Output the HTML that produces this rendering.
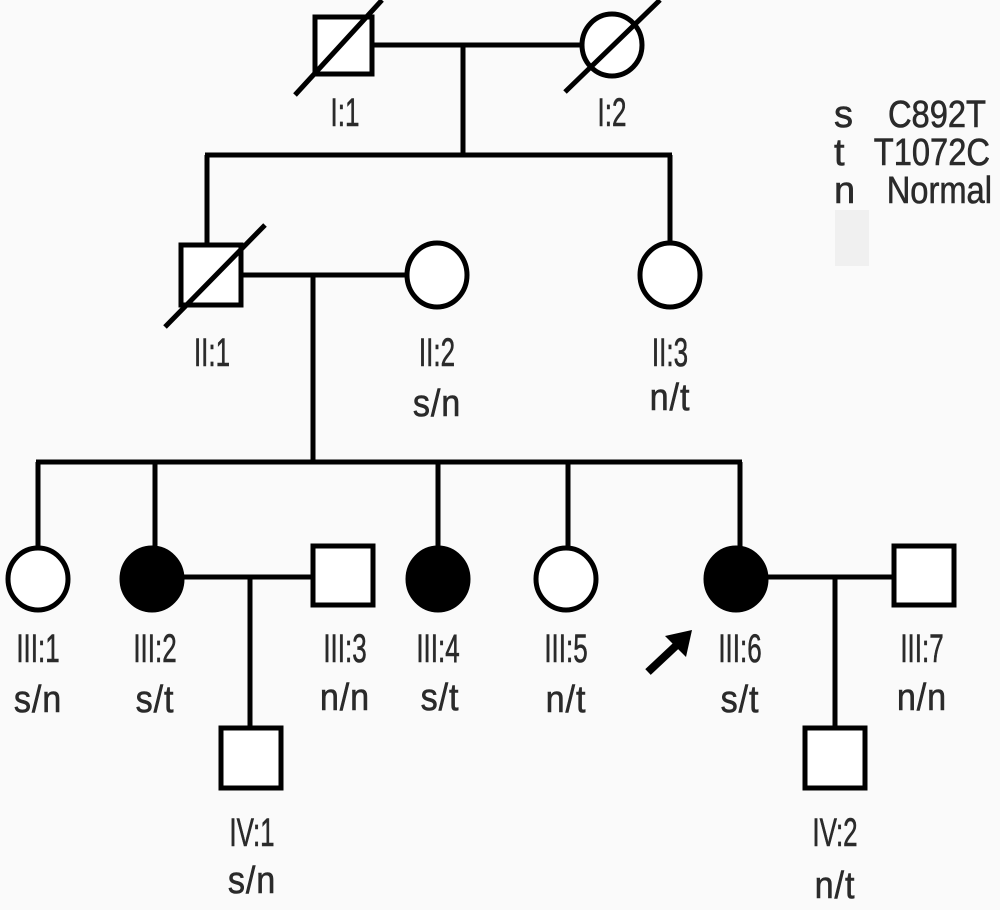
<!DOCTYPE html>
<html><head><style>
html,body{margin:0;padding:0;background:#fafafa;}
svg text{font-family:"Liberation Sans",sans-serif;fill:#2a2a2a;stroke:#2a2a2a;stroke-width:0.6px;}
.l{font-size:40px;}
.g{font-size:38px;letter-spacing:1px;}
.k{font-size:38px;}
</style></head><body>
<svg width="1000" height="905" viewBox="0 0 1000 905" xmlns="http://www.w3.org/2000/svg">
<rect width="1000" height="905" fill="#fafafa"/>
<rect x="835" y="210" width="34" height="56" fill="#f0f0f0"/>
<g stroke="#000" stroke-width="5" fill="none">
<rect x="315" y="17" width="57" height="57" fill="#fff"/>
<line x1="295" y1="95" x2="382" y2="0"/>
<ellipse cx="612" cy="45" rx="30" ry="31" fill="#fff"/>
<line x1="565" y1="92" x2="660" y2="0"/>
<line x1="372" y1="45" x2="582" y2="45"/>
<line x1="463" y1="45" x2="463" y2="155"/>
<line x1="205" y1="155" x2="672" y2="155"/>
<line x1="207" y1="155" x2="207" y2="245"/>
<line x1="670" y1="155" x2="670" y2="243"/>
<rect x="181" y="245" width="60" height="60" fill="#fff"/>
<line x1="165" y1="327" x2="265" y2="225"/>
<line x1="241" y1="275" x2="405" y2="275"/>
<ellipse cx="437" cy="275" rx="30" ry="32" fill="#fff"/>
<ellipse cx="670" cy="275" rx="30" ry="32" fill="#fff"/>
<line x1="313" y1="275" x2="313" y2="462"/>
<line x1="36" y1="462" x2="742" y2="462"/>
<line x1="38" y1="462" x2="38" y2="548"/>
<line x1="155" y1="462" x2="155" y2="548"/>
<line x1="438" y1="462" x2="438" y2="548"/>
<line x1="568" y1="462" x2="568" y2="548"/>
<line x1="740" y1="462" x2="740" y2="548"/>
<ellipse cx="38" cy="579" rx="30" ry="31" fill="#fff"/>
<ellipse cx="152" cy="579" rx="30" ry="31" fill="#000"/>
<line x1="182" y1="577" x2="313" y2="577"/>
<rect x="313" y="546" width="60" height="59" fill="#fff"/>
<line x1="250" y1="577" x2="250" y2="728"/>
<rect x="221" y="728" width="60" height="60" fill="#fff"/>
<ellipse cx="438" cy="579" rx="30" ry="31" fill="#000"/>
<ellipse cx="566" cy="579" rx="30" ry="31" fill="#fff"/>
<ellipse cx="736" cy="579" rx="30" ry="31" fill="#000"/>
<line x1="766" y1="577" x2="893" y2="577"/>
<rect x="894" y="546" width="60" height="59" fill="#fff"/>
<line x1="835" y1="577" x2="835" y2="728"/>
<rect x="805" y="728" width="60" height="60" fill="#fff"/>
</g>
<line x1="648" y1="672" x2="680" y2="642" stroke="#000" stroke-width="8"/>
<polygon points="692,630 665,636 686,657" fill="#000"/>
<g text-anchor="middle">
<text class="l" x="345" y="126" transform="translate(345,0) scale(0.65,1) translate(-345,0)">I:1</text>
<text class="l" x="612" y="126" transform="translate(612,0) scale(0.65,1) translate(-612,0)">I:2</text>
<text class="l" x="212" y="366" transform="translate(212,0) scale(0.65,1) translate(-212,0)">II:1</text>
<text class="l" x="437" y="366" transform="translate(437,0) scale(0.65,1) translate(-437,0)">II:2</text>
<text class="g" x="437" y="416" transform="translate(437,0) scale(0.9,1) translate(-437,0)">s/n</text>
<text class="l" x="670" y="366" transform="translate(670,0) scale(0.65,1) translate(-670,0)">II:3</text>
<text class="g" x="670" y="410" transform="translate(670,0) scale(0.9,1) translate(-670,0)">n/t</text>
<text class="l" x="38" y="662" transform="translate(38,0) scale(0.65,1) translate(-38,0)">III:1</text>
<text class="g" x="38" y="712" transform="translate(38,0) scale(0.9,1) translate(-38,0)">s/n</text>
<text class="l" x="155" y="662" transform="translate(155,0) scale(0.65,1) translate(-155,0)">III:2</text>
<text class="g" x="155" y="712" transform="translate(155,0) scale(0.9,1) translate(-155,0)">s/t</text>
<text class="l" x="345" y="662" transform="translate(345,0) scale(0.65,1) translate(-345,0)">III:3</text>
<text class="g" x="345" y="710" transform="translate(345,0) scale(0.9,1) translate(-345,0)">n/n</text>
<text class="l" x="438" y="662" transform="translate(438,0) scale(0.65,1) translate(-438,0)">III:4</text>
<text class="g" x="440" y="710" transform="translate(440,0) scale(0.9,1) translate(-440,0)">s/t</text>
<text class="l" x="566" y="662" transform="translate(566,0) scale(0.65,1) translate(-566,0)">III:5</text>
<text class="g" x="566" y="712" transform="translate(566,0) scale(0.9,1) translate(-566,0)">n/t</text>
<text class="l" x="740" y="662" transform="translate(740,0) scale(0.65,1) translate(-740,0)">III:6</text>
<text class="g" x="740" y="712" transform="translate(740,0) scale(0.9,1) translate(-740,0)">s/t</text>
<text class="l" x="922" y="662" transform="translate(922,0) scale(0.65,1) translate(-922,0)">III:7</text>
<text class="g" x="922" y="710" transform="translate(922,0) scale(0.9,1) translate(-922,0)">n/n</text>
<text class="l" x="252" y="846" transform="translate(252,0) scale(0.65,1) translate(-252,0)">IV:1</text>
<text class="g" x="252" y="893" transform="translate(252,0) scale(0.9,1) translate(-252,0)">s/n</text>
<text class="l" x="835" y="846" transform="translate(835,0) scale(0.65,1) translate(-835,0)">IV:2</text>
<text class="g" x="835" y="898" transform="translate(835,0) scale(0.9,1) translate(-835,0)">n/t</text>
</g>
<text class="k" x="834" y="127">s</text>
<text class="k" x="834" y="165">t</text>
<text class="k" x="834" y="203">n</text>
<g text-anchor="end">
<text class="k" x="986" y="127" transform="translate(986,0) scale(0.86,1) translate(-986,0)">C892T</text>
<text class="k" x="990" y="165" transform="translate(990,0) scale(0.86,1) translate(-990,0)">T1072C</text>
<text class="k" x="992" y="203" transform="translate(992,0) scale(0.86,1) translate(-992,0)">Normal</text>
</g>
</svg>
</body></html>
